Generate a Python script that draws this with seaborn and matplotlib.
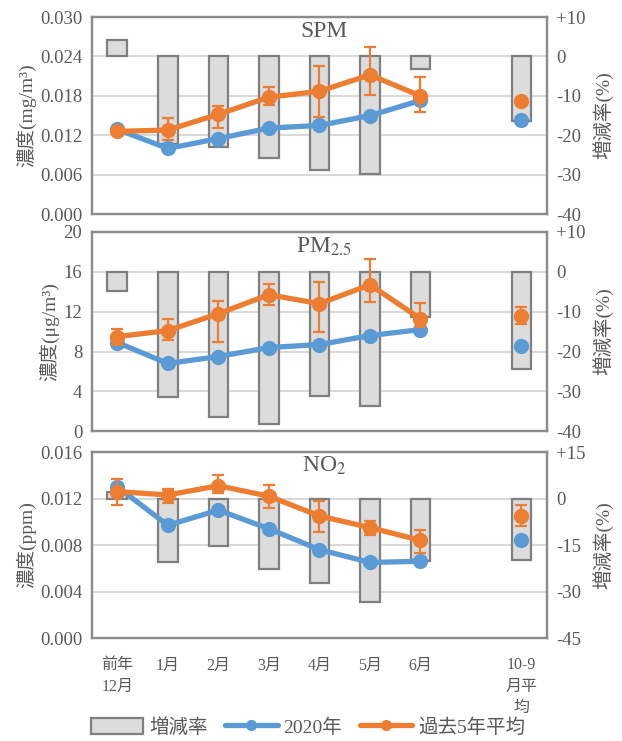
import matplotlib
matplotlib.use('Agg')
import matplotlib.pyplot as plt
from matplotlib.lines import Line2D
from matplotlib.patches import Patch
import numpy as np
import seaborn as sns

# x categories (slot 7 is left empty in the original chart)
months = ['前年\n12月', '1月', '2月', '3月', '4月', '5月', '6月', '10-9\n月平\n均']

# SPM (mg/m3)
spm_2020 = [0.0129, 0.0100, 0.0115, 0.0131, 0.0135, 0.0150, 0.0173, 0.0144]
spm_past = [0.0126, 0.0128, 0.0152, 0.0178, 0.0187, 0.0212, 0.0180, 0.0172]
spm_err_lo = [0.0006, 0.0015, 0.0021, 0.0012, 0.0039, 0.0030, 0.0024, 0.0004]
spm_err_hi = [0.0006, 0.0019, 0.0012, 0.0016, 0.0039, 0.0043, 0.0029, 0.0004]
spm_rate = [4.2, -22.1, -23.0, -25.8, -28.9, -29.8, -3.3, -16.4]

# PM2.5 (ug/m3)
pm25_2020 = [8.9, 6.8, 7.5, 8.4, 8.7, 9.6, 10.2, 8.6]
pm25_past = [9.5, 10.1, 11.8, 13.7, 12.8, 14.7, 11.3, 11.6]
pm25_err_lo = [0.8, 0.9, 2.85, 1.05, 2.8, 1.7, 0.8, 0.85]
pm25_err_hi = [0.8, 1.2, 1.25, 1.1, 2.2, 2.6, 1.6, 0.85]
pm25_rate = [-4.8, -31.4, -36.5, -38.3, -31.2, -33.6, -11.3, -24.3]

# NO2 (ppm)
no2_2020 = [0.0130, 0.0097, 0.0110, 0.0094, 0.0076, 0.0065, 0.0066, 0.0084]
no2_past = [0.0126, 0.0123, 0.0131, 0.0122, 0.0105, 0.0095, 0.0084, 0.0105]
no2_err_lo = [0.0012, 0.0007, 0.0006, 0.0010, 0.0014, 0.0006, 0.0011, 0.0009]
no2_err_hi = [0.0011, 0.0005, 0.0009, 0.0010, 0.0013, 0.0006, 0.0009, 0.0009]
no2_rate = [2.2, -20.4, -15.3, -22.7, -27.2, -33.3, -20.2, -19.7]

BLUE = '#5B9BD5'
ORANGE = '#ED7D31'
BAR_FILL = '#DCDCDC'
BAR_EDGE = '#7F7F7F'
FRAME = '#8C8C8C'
TEXT = '#595959'

sns.set_theme(style='white')
plt.rcParams['font.family'] = ['Liberation Serif', 'Noto Sans CJK JP']
plt.rcParams['axes.unicode_minus'] = False
plt.rcParams['mathtext.fontset'] = 'stix'

xpos = np.array([0, 1, 2, 3, 4, 5, 6, 8])


def fmt_rate(v):
    v = int(round(v))
    return '+%d' % v if v > 0 else '%d' % v


def panel(fig, rect, title, ylabel, conc_2020, conc_past, err_lo, err_hi, rate,
          conc_ticks, conc_fmt, rate_ticks, show_x=False):
    ax_rate = fig.add_axes(rect)
    ax_conc = ax_rate.twinx()

    # bars on the rate axis (behind)
    sns.barplot(x=xpos, y=rate, native_scale=True, width=0.39, color=BAR_FILL,
                saturation=1, edgecolor=BAR_EDGE, linewidth=1.6, errorbar=None, ax=ax_rate)
    ax_rate.set_ylim(rate_ticks[0], rate_ticks[-1])
    ax_rate.set_yticks(rate_ticks)
    ax_rate.set_yticklabels([fmt_rate(v) for v in rate_ticks])
    ax_rate.yaxis.tick_right()
    ax_rate.yaxis.set_label_position('right')
    ax_rate.set_ylabel('増減率(%)', fontsize=14, color=TEXT, labelpad=5)
    ax_rate.set_axisbelow(True)
    ax_rate.grid(axis='y', color='#D9D9D9', linewidth=1.5)
    ax_rate.grid(axis='x', visible=False)

    # concentration lines
    sns.lineplot(x=xpos[:7], y=conc_2020[:7], color=BLUE, linewidth=3.8, marker='o',
                 markersize=11, markeredgewidth=0, ax=ax_conc, zorder=3)
    ax_conc.plot(xpos[7], conc_2020[7], 'o', color=BLUE, markersize=11, markeredgewidth=0, zorder=3)
    ax_conc.errorbar(xpos, conc_past, yerr=[err_lo, err_hi], fmt='none', ecolor=ORANGE,
                     elinewidth=1.6, capsize=4, capthick=1.6, zorder=4)
    sns.lineplot(x=xpos[:7], y=conc_past[:7], color=ORANGE, linewidth=3.8, marker='o',
                 markersize=11, markeredgewidth=0, ax=ax_conc, zorder=5)
    ax_conc.plot(xpos[7], conc_past[7], 'o', color=ORANGE, markersize=11, markeredgewidth=0, zorder=5)

    ax_conc.set_ylim(conc_ticks[0], conc_ticks[-1])
    ax_conc.set_yticks(conc_ticks)
    ax_conc.set_yticklabels([conc_fmt % v for v in conc_ticks])
    ax_conc.yaxis.tick_left()
    ax_conc.yaxis.set_label_position('left')
    ax_conc.set_ylabel(ylabel, fontsize=14, color=TEXT, labelpad=3)
    ax_conc.grid(False)

    for a in (ax_rate, ax_conc):
        a.set_xlim(-0.5, 8.5)
        a.tick_params(axis='y', length=0, labelsize=13.5, labelcolor=TEXT, pad=7)
        for s in a.spines.values():
            s.set_color(FRAME)
            s.set_linewidth(1.6)

    ax_rate.set_xticks(xpos)
    if show_x:
        ax_rate.set_xticklabels(months, fontsize=11.5, color=TEXT, linespacing=1.45, va='top')
        ax_rate.tick_params(axis='x', length=0, pad=14)
    else:
        ax_rate.set_xticklabels([])
        ax_rate.tick_params(axis='x', length=0)
    ax_rate.set_xlabel('')

    ax_rate.text(0.51, 0.925, title, transform=ax_rate.transAxes, ha='center', va='center',
                 fontsize=17, color=TEXT, zorder=10)
    return ax_rate, ax_conc


fig = plt.figure(figsize=(6.22, 7.41), dpi=100)

panel(fig, [0.148, 0.711, 0.731, 0.266], 'SPM', '濃度(mg/m³)',
      spm_2020, spm_past, spm_err_lo, spm_err_hi, spm_rate,
      [0, 0.006, 0.012, 0.018, 0.024, 0.030], '%.3f', [-40, -30, -20, -10, 0, 10])
panel(fig, [0.148, 0.418, 0.731, 0.269], 'PM$_{2.5}$', '濃度(μg/m³)',
      pm25_2020, pm25_past, pm25_err_lo, pm25_err_hi, pm25_rate,
      [0, 4, 8, 12, 16, 20], '%d', [-40, -30, -20, -10, 0, 10])
panel(fig, [0.148, 0.139, 0.731, 0.251], 'NO$_2$', '濃度(ppm)',
      no2_2020, no2_past, no2_err_lo, no2_err_hi, no2_rate,
      [0, 0.004, 0.008, 0.012, 0.016], '%.3f', [-45, -30, -15, 0, 15], show_x=True)

handles = [
    Patch(facecolor=BAR_FILL, edgecolor=BAR_EDGE, linewidth=1.6),
    Line2D([0], [0], color=BLUE, linewidth=3.8, marker='o', markersize=7),
    Line2D([0], [0], color=ORANGE, linewidth=3.8, marker='o', markersize=7),
]
fig.legend(handles, ['増減率', '2020年', '過去5年平均'], loc='lower center',
           bbox_to_anchor=(0.495, -0.018), ncol=3, frameon=False, fontsize=14,
           handlelength=2.7, handleheight=0.9, columnspacing=0.9, handletextpad=0.3,
           labelcolor=TEXT)

fig.savefig('out.png', dpi=100)
